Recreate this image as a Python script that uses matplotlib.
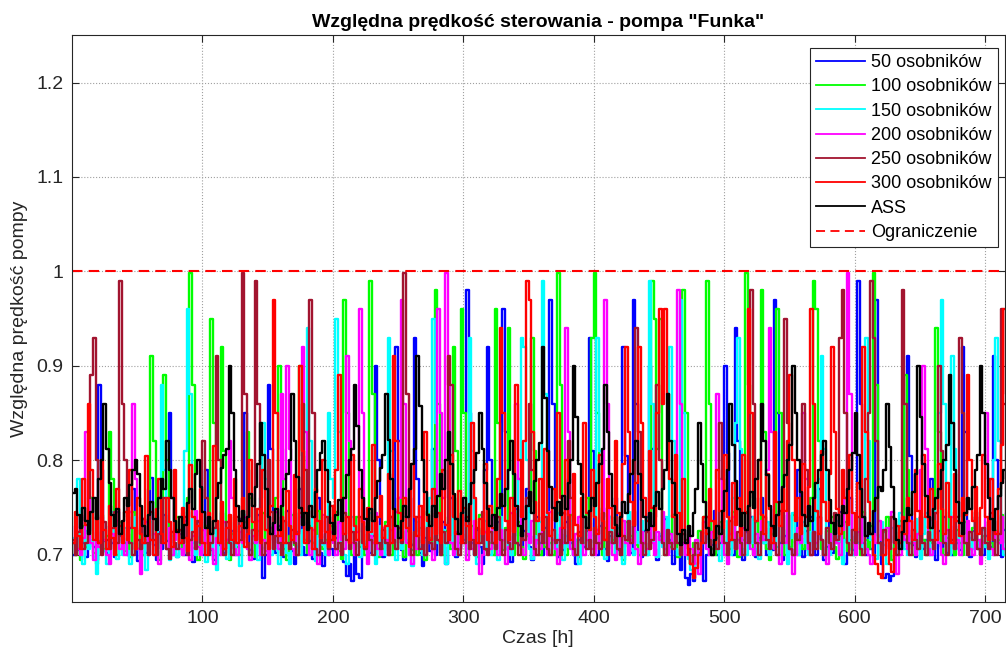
import numpy as np
import matplotlib
matplotlib.use("Agg")
import matplotlib.pyplot as plt

# values, one value every 2 h, in thousandths of full speed
step_h = 2

s50 = [700,718,705,742,712,698,725,760,708,695,880,790,715,702,730,712,698,745,720,706,
       712,700,728,770,705,693,716,738,702,720,781,710,695,724,706,742,715,850,760,702,
       698,722,710,700,745,716,692,708,735,712,700,790,720,705,695,728,710,744,702,716,
       706,725,700,712,738,718,850,790,705,696,720,742,708,675,700,880,812,716,702,730,
       712,698,746,720,704,690,724,770,708,700,735,715,696,720,760,702,688,712,740,706,
       700,718,735,704,692,678,690,672,700,680,676,705,712,730,702,720,900,800,712,698,
       716,704,740,712,920,820,705,695,725,760,710,930,780,702,688,718,730,704,812,700,
       715,702,735,690,708,760,720,698,706,742,716,980,850,712,700,726,708,690,790,920,
       800,712,700,735,716,960,830,705,692,720,748,710,702,725,770,708,695,720,740,712,
       700,728,745,970,860,710,698,722,705,735,780,712,700,690,716,742,708,725,930,810,
       712,700,730,750,706,694,720,712,760,705,700,920,805,718,702,970,860,712,698,725,
       740,900,812,706,695,720,712,738,702,716,690,706,700,684,712,675,668,680,672,690,
       702,716,672,700,725,710,746,700,712,735,900,808,715,700,940,820,706,695,724,712,
       740,705,698,718,760,712,700,728,705,970,850,712,695,720,742,706,700,715,790,710,
       698,725,704,740,712,700,770,716,695,708,735,702,720,712,745,700,690,718,760,705,
       720,990,860,712,700,725,706,698,970,720,690,675,680,672,678,700,712,730,708,716,
       910,805,710,698,722,740,706,716,700,780,712,695,725,708,740,702,716,700,730,712,
       705,920,830,712,698,725,740,706,716,700,720,735,708,910,800,712,698,726,744,710]

s100 = [712,700,724,695,730,708,718,760,702,690,715,742,706,720,830,780,712,700,735,716,
        704,722,698,745,712,706,728,700,716,770,910,820,712,695,722,890,800,708,700,726,
        740,712,700,718,760,998,880,706,695,720,712,730,702,950,840,716,700,920,810,712,
        695,722,740,708,700,716,735,830,760,712,698,725,706,744,712,700,728,716,760,900,
        812,706,695,720,742,710,700,900,805,716,702,730,712,698,746,720,706,716,700,730,
        712,745,704,696,970,850,712,700,724,740,708,716,700,730,990,870,712,698,722,706,
        735,712,700,718,706,760,712,698,725,740,705,716,700,728,712,695,746,718,706,980,
        860,712,700,725,740,706,920,810,712,960,850,700,716,730,708,698,742,712,705,726,
        712,700,960,840,716,705,728,940,820,700,712,735,708,696,720,745,930,810,712,700,
        726,708,740,712,700,718,998,880,712,700,725,742,706,716,698,730,712,760,720,930,
        998,850,712,700,728,706,740,716,700,722,712,695,735,708,720,746,710,700,726,712,
        700,740,990,950,812,950,716,700,725,708,742,712,698,720,980,850,706,690,712,700,
        725,712,740,990,860,706,700,718,735,712,700,728,706,745,712,698,720,716,998,880,
        712,700,735,716,980,830,706,695,722,740,960,850,712,700,726,708,742,712,700,718,
        706,730,712,760,990,960,820,706,700,725,712,740,708,696,720,712,735,704,716,700,
        728,712,700,745,716,706,730,998,880,712,700,724,740,708,695,720,712,736,706,890,
        790,712,700,725,706,740,716,700,730,712,722,940,830,706,700,718,745,712,700,726,
        712,700,735,716,706,728,745,712,700,720,708,736,712,700,725,716,742,706,700,722]

s150 = [718,740,780,700,690,725,706,716,698,680,712,735,704,690,720,745,708,696,716,700,
        728,704,690,712,740,706,698,720,684,712,735,700,716,760,880,790,706,695,720,712,
        698,725,744,810,960,870,712,700,718,735,706,692,716,700,728,684,712,746,705,696,
        720,712,735,700,688,716,742,706,700,726,712,695,760,840,780,712,700,724,706,690,
        716,735,702,690,720,745,708,700,726,712,940,820,706,694,720,736,710,700,850,780,
        760,950,830,712,700,690,722,740,706,716,698,728,712,700,744,716,690,706,730,712,
        700,930,810,712,695,724,706,740,716,700,688,720,735,708,700,716,745,760,950,840,
        712,700,726,690,716,740,706,700,722,712,744,706,930,810,700,690,720,712,736,706,
        700,724,712,695,740,716,706,728,700,712,745,780,930,920,800,706,696,720,712,735,
        990,870,712,700,726,706,744,712,695,720,708,736,700,716,690,712,740,706,722,700,
        716,930,810,706,696,722,740,712,700,728,708,690,716,745,706,700,724,712,736,704,
        700,990,860,712,698,722,708,740,716,920,820,706,700,970,850,712,696,684,676,690,
        706,720,712,740,700,716,730,706,694,720,712,736,700,760,840,930,812,706,700,724,
        712,740,706,696,720,712,735,700,716,742,708,700,726,712,690,718,744,706,700,720,
        735,712,700,724,706,745,780,910,812,706,700,720,712,736,700,690,716,742,706,700,
        722,712,740,706,930,820,716,700,696,720,735,710,690,706,728,712,700,744,716,706,
        700,720,712,738,706,696,722,744,712,700,726,760,850,970,860,712,700,910,812,706,
        720,736,712,700,718,706,744,712,700,726,708,696,720,800,930,820,712,700,735,716]

s200 = [712,730,706,700,718,830,760,712,695,724,708,740,716,700,690,722,712,736,706,718,
        700,726,745,860,780,706,680,712,735,700,716,722,704,690,740,712,706,728,700,716,
        724,706,700,736,712,695,720,746,708,700,726,712,740,706,690,718,712,700,735,716,
        820,760,706,700,724,712,740,706,695,720,712,736,700,716,704,690,728,712,745,706,
        870,780,900,812,706,700,722,740,920,830,712,700,726,706,690,716,742,712,700,724,
        712,700,735,716,706,910,820,712,700,724,960,850,706,690,720,712,744,706,700,728,
        716,700,726,712,745,760,970,860,712,700,690,722,706,740,716,700,728,712,695,720,
        960,850,760,998,880,712,700,724,706,740,712,695,720,706,736,712,680,700,724,716,
        706,740,712,700,726,716,690,708,744,712,860,780,706,700,722,712,736,700,716,706,
        724,712,700,745,716,706,690,728,712,940,830,706,700,722,740,712,700,716,734,706,
        700,726,712,740,970,860,712,700,695,722,708,736,712,700,716,745,706,690,724,712,
        706,736,712,700,724,716,745,706,700,722,712,790,980,860,712,700,726,706,690,716,
        680,712,735,706,700,724,716,870,780,712,700,690,722,740,706,716,700,728,712,745,
        706,700,722,712,736,716,790,940,830,706,700,690,720,712,744,706,680,700,728,712,
        850,780,706,700,724,712,740,716,700,690,722,706,736,712,700,726,760,998,870,712,
        700,724,712,740,706,700,690,722,712,736,716,700,728,706,745,712,680,700,724,716,
        706,736,712,700,722,790,900,812,706,700,716,744,712,700,690,726,712,740,706,716,
        700,724,712,736,706,700,745,716,690,712,850,780,706,700,724,712,740,706,700,722]

s250 = [716,700,724,740,706,712,760,890,930,800,712,700,735,716,706,728,745,712,990,860,
        800,740,712,700,726,716,706,738,712,700,745,716,700,722,712,760,706,696,724,712,
        706,726,712,740,700,716,724,706,736,712,820,760,700,712,728,910,800,712,700,735,
        712,700,724,740,716,998,870,712,700,726,990,860,716,700,712,800,745,706,720,712,
        700,736,712,706,726,712,700,744,860,790,712,970,850,706,700,722,712,740,706,716,
        730,706,712,700,744,716,706,724,712,700,740,712,706,722,716,700,736,712,706,726,
        712,700,740,716,706,728,712,998,870,712,700,724,740,706,716,700,728,712,706,744,
        716,700,724,712,910,880,760,706,700,722,712,740,706,716,700,728,712,745,706,700,
        724,712,706,740,716,700,726,712,706,744,712,700,724,716,760,860,790,706,700,722,
        712,740,706,700,726,712,716,700,744,712,820,760,706,700,724,712,740,706,716,700,
        728,712,706,744,716,700,724,712,740,706,700,720,716,736,712,730,940,830,712,700,
        724,706,716,740,880,800,712,700,726,712,706,744,712,700,722,716,706,690,700,712,
        706,724,712,740,716,700,726,706,840,780,712,700,736,716,706,724,712,700,745,712,
        980,860,712,700,724,740,716,706,728,712,700,746,712,950,840,706,700,722,716,740,
        860,790,712,700,724,706,740,716,700,728,712,706,744,716,930,980,850,712,700,726,
        712,740,706,700,780,850,990,930,820,712,700,726,716,706,740,712,700,724,980,860,
        712,700,726,716,706,740,712,700,724,716,706,744,900,810,712,700,726,716,706,740,
        930,850,712,700,724,716,740,706,700,728,712,706,744,716,700,722,960,860,712,726]

s300 = [712,745,720,706,780,732,860,790,716,740,712,800,726,706,752,718,700,770,730,712,
        745,716,790,728,706,760,722,712,805,736,716,700,748,780,722,712,760,735,708,790,
        726,712,750,718,704,795,740,716,730,770,712,700,744,722,815,736,712,756,706,728,
        742,716,780,712,730,760,708,722,800,735,716,748,712,790,726,706,752,970,850,720,
        740,712,768,730,716,785,722,900,810,712,746,728,706,770,736,718,800,724,708,752,
        716,790,890,760,722,740,712,806,730,716,770,735,708,750,724,816,712,740,762,718,
        730,786,712,910,820,744,716,760,728,708,796,740,720,752,712,830,736,716,770,722,
        744,712,790,732,716,806,740,722,768,712,750,730,716,840,760,712,738,722,796,716,
        752,728,712,780,940,850,736,716,760,724,880,800,740,820,990,970,830,756,736,780,
        726,812,744,720,770,736,850,760,728,800,742,716,786,732,720,760,840,744,726,790,
        740,722,806,736,716,780,750,728,820,744,720,796,920,830,756,732,776,920,840,760,
        736,810,750,726,850,960,860,960,870,780,740,806,744,722,780,712,700,690,676,686,
        700,712,740,722,770,736,712,790,746,728,806,740,716,776,732,760,720,806,744,960,
        850,760,736,800,742,722,786,748,712,830,756,730,770,746,820,890,800,736,760,722,
        796,740,772,960,860,746,722,810,756,736,786,920,830,748,722,790,760,732,806,744,
        726,776,740,920,830,756,722,700,690,680,676,700,716,690,682,706,730,712,740,722,
        760,736,716,790,746,722,806,740,728,770,736,716,796,748,722,776,740,712,786,736,
        720,760,742,890,800,736,772,722,750,806,740,716,780,736,722,770,816,960,870,760]

ass = [765,770,742,728,750,736,722,745,760,738,780,800,
       860,812,776,742,730,748,722,736,760,752,774,790,
       800,786,752,730,720,742,756,738,726,760,780,770,
       820,790,760,736,724,740,718,732,755,770,748,786,
       800,772,745,728,740,722,736,760,776,792,806,812,
       900,850,790,752,736,746,728,740,764,752,772,796,
       840,806,770,740,722,734,748,726,752,770,786,800,
       870,820,782,750,732,744,726,752,740,766,790,808,
       820,790,756,734,722,742,758,736,760,784,800,812,
       880,836,790,760,738,726,748,736,760,778,792,806,
       870,822,780,748,730,718,736,752,740,770,796,812,
       910,858,800,766,742,730,752,740,762,786,770,800,
       830,796,764,738,722,744,760,736,754,776,790,808,
       850,812,776,748,730,742,726,750,764,752,770,790,
       820,786,752,730,720,738,752,766,744,778,800,818,
       920,866,810,772,750,736,756,742,762,748,776,800,
       900,846,796,764,740,728,746,760,752,776,796,812,
       880,830,786,752,732,720,740,756,744,764,786,800,
       820,786,758,740,726,744,730,752,766,748,770,790,
       870,820,776,742,722,710,726,712,730,720,744,770,
       840,796,756,728,708,700,716,730,722,746,768,790,
       860,816,778,748,730,744,726,752,766,750,780,800,
       860,820,784,752,730,720,742,756,772,784,800,816,
       900,850,800,766,742,730,752,736,760,776,790,806,
       820,790,758,734,722,742,730,752,744,770,790,808,
       850,806,770,740,720,734,722,746,760,772,768,790,
       860,814,772,738,716,706,724,736,750,742,766,786,
       900,846,796,762,740,728,748,760,770,790,800,816,
       890,840,790,756,734,722,744,760,748,772,790,806,
       900,850,796,760,738,726,748,762,776,790,780,800]

labels = ["50 osobników", "100 osobników", "150 osobników", "200 osobników",
          "250 osobników", "300 osobników", "ASS"]
colors = ["#0000ff", "#00ff00", "#00ffff", "#ff00ff", "#a2142f", "#ff0000", "#000000"]
limit = 1.0

plt.rcParams['font.family'] = ['Liberation Sans', 'DejaVu Sans']

fig = plt.figure(figsize=(10.06, 6.66), dpi=100)
ax = fig.add_axes([0.0716, 0.096, 0.927, 0.851])

series = [s50, s100, s150, s200, s250, s300, ass]
x = np.arange(len(s50)) * step_h
for ys, lab, c in zip(series, labels, colors):
    ax.step(x, np.array(ys) / 1000, where='post', color=c, lw=1.7, label=lab)
ax.axhline(limit, color='#ff0000', ls=(0, (5, 3)), lw=1.5, label='Ograniczenie')

ax.set_xlim(0, 715)
ax.set_ylim(0.65, 1.25)
ax.set_xticks([100, 200, 300, 400, 500, 600, 700])
ax.set_yticks([0.7, 0.8, 0.9, 1.0, 1.1, 1.2])
ax.set_yticklabels(["0.7", "0.8", "0.9", "1", "1.1", "1.2"])
ax.tick_params(direction='in', top=True, right=True, length=5, labelsize=14,
               colors='#262626', pad=6)
ax.grid(True, ls=':', color='#a0a0a0', lw=0.8)
for sp in ax.spines.values():
    sp.set_color('#262626')

ax.set_title('Względna prędkość sterowania - pompa "Funka"', fontsize=14,
             fontweight='bold', pad=6)
ax.set_xlabel('Czas [h]', fontsize=14, color='#262626', labelpad=2)
ax.set_ylabel('Względna prędkość pompy', fontsize=14, color='#262626', labelpad=6)

leg = ax.legend(loc='upper right', bbox_to_anchor=(0.992, 0.928),
                bbox_transform=fig.transFigure, borderaxespad=0,
                fontsize=13, fancybox=False, framealpha=1,
                edgecolor='#262626', handlelength=2.7, handletextpad=0.33,
                labelspacing=0.4, borderpad=0.35)
leg.get_frame().set_linewidth(0.8)
for ln in leg.get_lines():
    ln.set_linewidth(1.3)

fig.savefig('out.png', dpi=100)
